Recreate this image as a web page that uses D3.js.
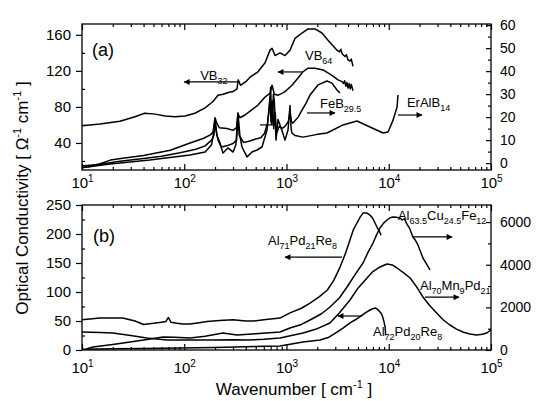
<!DOCTYPE html>
<html>
<head>
<meta charset="utf-8">
<script src="https://cdnjs.cloudflare.com/ajax/libs/d3/7.8.5/d3.min.js"></script>
<style>
body { margin: 0; background: #fff; }
text { font-family: "Liberation Sans", Arial, sans-serif; fill: #000; }
.axis path { display: none; }
.axis line { stroke: #000; stroke-width: 1.2; }
.curve { fill: none; stroke: #000; stroke-width: 1.5; stroke-linejoin: round; }
</style>
</head>
<body>
<svg id="chart" width="541" height="401"></svg>
<script>
// ---- panel (a), values ----
// left axis
var vb32 = [[10,59],[15,61],[23.5,64],[33,69],[41,73],[52,72],[65,70],[81,69],[102,70],[127,73],[160,79],[191,86],[214,93],[240,94],[270,96],[300,97],[328,100],[337,110],[355,104],[400,108],[440,113],[526,119],[617,129],[690,143],[722,145],[773,137],[864,140],[967,137],[1082,143],[1211,156],[1418,162],[1623,166.5],[1900,166.5],[2224,162],[2546,154],[3118,143],[3300,141],[3400,144],[3500,139],[3735,136],[3850,138],[4000,132],[4178,131],[4300,133],[4470,125]];
var vb64 = [[10,13],[12,14],[15,17],[19,21],[25,23],[40,26],[73,32],[114,40],[153,45],[180,49],[191,52],[200,68],[208,62],[220,57],[262,56],[300,54],[325,57],[335,73],[350,68],[393,71],[460,77],[526,82],[617,91],[690,95],[722,104],[760,94],[830,93],[900,95],[967,97],[1132,104],[1296,112],[1450,119],[1623,123],[1900,123],[2275,121],[2786,115],[3190,110],[3500,108],[3600,106],[3700,109],[3800,103],[3900,107],[4000,101],[4100,106],[4200,100],[4300,105],[4470,98]];
// right axis
var feb = [[10,-1.3],[15,-0.5],[23.5,0.8],[40,2],[60,3],[91,4.5],[130,6],[160,7.5],[185,10],[195,12],[200,19],[205,14],[214,10],[230,7],[260,7.5],[300,8.5],[325,10],[335,20],[345,12],[380,9],[430,9.5],[500,10.5],[560,11],[610,13],[650,17],[680,24],[700,33],[712,20],[730,27],[750,15],[775,22],[800,13],[850,16],[900,15],[967,16],[1040,18],[1082,22],[1120,18],[1158,17.4],[1300,20],[1418,23],[1550,26],[1698,29.6],[2032,34],[2489,35.7],[2786,34.8],[3118,31.8],[3336,30.5]];
var eralb = [[10,-2],[18.8,-0.4],[46,1.3],[114,3.5],[160,4.8],[185,8],[191,11.3],[200,18.5],[209,12],[224,8.7],[239,4.4],[268,6.6],[300,4.8],[320,8],[335,21.8],[350,12],[367,7],[411,2.7],[460,4.8],[515,5.7],[576,7],[645,14.4],[690,28.7],[705,18],[722,16.6],[745,30],[760,27],[790,10],[826,19],[900,14.4],[967,10],[1035,14.4],[1082,25],[1110,15],[1132,13],[1211,12],[1450,11.3],[2000,12.5],[2489,13.1],[3572,16.6],[4890,18.3],[6555,15.7],[8790,13.1],[9840,13.5],[11020,18.7],[12060,24.4],[12310,29.6]];

// ---- panel (b) ----
// left axis
var al71 = [[10,52],[15,55],[25,55],[33,50],[40,44],[50,46],[60,48],[66,49],[70,56],[74,48],[85,46],[97,45],[114,45],[140,47],[167,49],[220,51],[300,52],[400,50],[470,50],[600,52],[864,55],[1082,64],[1400,72],[1700,81],[2100,92],[2500,103],[2900,120],[3340,143],[3800,168],[4180,190],[4500,207],[4890,219],[5250,229],[5600,236],[6130,236],[6500,233],[6860,229],[7200,222],[7670,212],[8200,203],[8400,198]];
var al72 = [[10,1.5],[20,2],[40,2.5],[91,3.4],[200,4.5],[400,5.5],[864,6.9],[1450,13.8],[2127,17.2],[2600,22],[3118,31],[3600,38],[4178,46.6],[4800,53],[5500,60],[6000,65],[6555,69],[7000,71],[7380,72.4],[7800,70],[8210,65.5],[8500,62],[8790,55],[9000,48],[9220,39.7],[9300,30],[9300,25]];
// right axis
var al63 = [[11,50],[12.8,141],[20,260],[29.5,375],[45,500],[62,610],[80,600],[114,563],[160,650],[239,797],[328,703],[500,760],[864,844],[1082,1032],[1400,1200],[1698,1407],[2200,1700],[2663,2017],[3300,2450],[3908,2955],[4700,3550],[5600,4080],[6300,4600],[7015,5018],[7600,5400],[8210,5722],[8900,5950],[9620,6097],[10300,6200],[11020,6238],[12000,6220],[12860,6190],[13500,6100],[14200,6150],[15070,5900],[16000,5700],[17250,5300],[18200,5150],[19300,4925],[20500,4600],[21600,4315],[23000,4100],[25300,3752]];
var al70 = [[10,844],[15,820],[20,797],[30,680],[43,563],[68,469],[100,469],[191,469],[300,480],[411,469],[600,500],[864,563],[1450,797],[2000,1000],[2663,1266],[3300,1750],[4178,2345],[5000,2900],[6130,3377],[7000,3680],[8210,3893],[9620,4033],[10800,3990],[12060,3846],[14000,3620],[16200,3377],[18800,2950],[21600,2486],[25000,2100],[29400,1735],[34000,1420],[39600,1172],[46000,980],[53000,844],[62000,750],[72500,703],[82000,740],[91000,797],[100000,950]];

// tick values
var decades = [10, 100, 1000, 10000, 100000];
var aLeftTicks = [40, 80, 120, 160];
var aRightTicks = [0, 10, 20, 30, 40, 50, 60];
var bLeftTicks = [0, 50, 100, 150, 200, 250];
var bRightTicks = [0, 2000, 4000, 6000];

// labels: text pieces, 1 = subscript; placed in data units of the left axis
var labelsA = [
    { p: [["VB"], ["32", 1]], w: 143, v: 110 },
    { p: [["VB"], ["64", 1]], w: 1517, v: 132 },
    { p: [["FeB"], ["29.5", 1]], w: 2127, v: 78.8 },
    { p: [["ErAlB"], ["14", 1]], w: 15070, v: 80 }
];
var arrowsA = [
    { w0: 100, w1: 351, v: 107.7, head: "start" },
    { w0: 826, w1: 1450, v: 118.8, head: "start" },
    { w0: 1585, w1: 2980, v: 73.3, head: "end" },
    { w0: 12310, w1: 21100, v: 71, head: "end" },
    { w0: 550, w1: 710, v: 60, head: "none" }
];
var labelsB = [
    { p: [["Al"], ["71", 1], ["Pd"], ["21", 1], ["Re"], ["8", 1]], w: 659, v: 181 },
    { p: [["Al"], ["63.5", 1], ["Cu"], ["24.5", 1], ["Fe"], ["12", 1]], w: 12300, v: 224 },
    { p: [["Al"], ["70", 1], ["Mn"], ["9", 1], ["Pd"], ["21", 1]], w: 20200, v: 103 },
    { p: [["Al"], ["72", 1], ["Pd"], ["20", 1], ["Re"], ["8", 1]], w: 7020, v: 24 }
];
var arrowsB = [
    { w0: 967, w1: 3490, v: 160, head: "start" },
    { w0: 16860, w1: 41600, v: 195, head: "end" },
    { w0: 22600, w1: 48600, v: 91, head: "end" },
    { w0: 3190, w1: 5470, v: 58.6, head: "start" }
];

var svg = d3.select("#chart");

var x = d3.scaleLog().domain([10, 1e5]).range([82, 491]);
var yaL = d3.scaleLinear().domain([10, 172]).range([170, 24]);
var yaR = d3.scaleLinear().domain([-3, 60.5]).range([170, 24]);
var ybL = d3.scaleLinear().domain([0, 250]).range([350, 205]);
var ybR = d3.scaleLinear().domain([0, 6800]).range([350, 205]);

// arrow heads
var defs = svg.append("defs");
defs.append("marker").attr("id", "ah").attr("viewBox", "0 0 10 10")
    .attr("refX", 9).attr("refY", 5).attr("markerWidth", 7).attr("markerHeight", 6)
    .attr("markerUnits", "userSpaceOnUse").attr("orient", "auto-start-reverse")
    .append("path").attr("d", "M0,0L10,5L0,10z").attr("fill", "#000");

function minorsOf() {
    var out = [];
    decades.slice(0, 4).forEach(function (d) {
        for (var m = 2; m < 10; m++) out.push(d * m);
    });
    return out;
}

function drawPanel(yL, yR, leftTicks, leftMinor, rightTicks, rightMinor, labelGap) {
    var top = yL.range()[1], bot = yL.range()[0];

    // x axis: bottom (labels) and top, ticks pointing inwards
    var gb = svg.append("g").attr("class", "axis").attr("transform", "translate(0," + bot + ")")
        .call(d3.axisBottom(x).tickValues(decades).tickSizeInner(-6).tickSizeOuter(0).tickPadding(labelGap).tickFormat(""));
    gb.selectAll(".tick text").attr("font-size", 15).each(function (d) {
        var t = d3.select(this);
        t.append("tspan").text("10");
        t.append("tspan").attr("dy", -6).attr("font-size", 10).text(Math.round(Math.log10(d)));
    });
    svg.append("g").attr("class", "axis").attr("transform", "translate(0," + bot + ")")
        .call(d3.axisBottom(x).tickValues(minorsOf()).tickSizeInner(-3).tickSizeOuter(0).tickFormat(""));
    svg.append("g").attr("class", "axis").attr("transform", "translate(0," + top + ")")
        .call(d3.axisTop(x).tickValues(decades).tickSizeInner(-6).tickSizeOuter(0).tickFormat(""));
    svg.append("g").attr("class", "axis").attr("transform", "translate(0," + top + ")")
        .call(d3.axisTop(x).tickValues(minorsOf()).tickSizeInner(-3).tickSizeOuter(0).tickFormat(""));

    // left axis, major ticks sticking out
    svg.append("g").attr("class", "axis").attr("transform", "translate(82,0)")
        .call(d3.axisLeft(yL).tickValues(leftTicks).tickSizeInner(6).tickSizeOuter(0).tickPadding(5).tickFormat(d3.format("d")))
        .selectAll("text").attr("font-size", 15);
    svg.append("g").attr("class", "axis").attr("transform", "translate(82,0)")
        .call(d3.axisLeft(yL).tickValues(leftMinor).tickSizeInner(-3).tickSizeOuter(0).tickFormat(""));

    // right axis
    svg.append("g").attr("class", "axis").attr("transform", "translate(491,0)")
        .call(d3.axisRight(yR).tickValues(rightTicks).tickSizeInner(-5).tickSizeOuter(0).tickPadding(9).tickFormat(d3.format("d")))
        .selectAll("text").attr("font-size", 14);
    svg.append("g").attr("class", "axis").attr("transform", "translate(491,0)")
        .call(d3.axisRight(yR).tickValues(rightMinor).tickSizeInner(-3).tickSizeOuter(0).tickFormat(""));

    svg.append("rect").attr("x", 82).attr("y", top).attr("width", 491 - 82).attr("height", bot - top)
        .attr("fill", "none").attr("stroke", "#000").attr("stroke-width", 1.3);
}

drawPanel(yaL, yaR, aLeftTicks, [20, 60, 100, 140], aRightTicks, [5, 15, 25, 35, 45, 55], 7);
drawPanel(ybL, ybR, bLeftTicks, [25, 75, 125, 175, 225], bRightTicks, [1000, 3000, 5000], 12);

function curve(data, yS) {
    var line = d3.line().x(function (d) { return x(d[0]); }).y(function (d) { return yS(d[1]); });
    svg.append("path").attr("class", "curve").attr("d", line(data));
}

curve(vb32, yaL);
curve(vb64, yaL);
curve(feb, yaR);
curve(eralb, yaR);
curve(al71, ybL);
curve(al72, ybL);
curve(al63, ybR);
curve(al70, ybR);

function labels(list, yS) {
    list.forEach(function (l) {
        var t = svg.append("text").attr("x", x(l.w)).attr("y", yS(l.v)).attr("font-size", 13);
        var down = false;
        l.p.forEach(function (piece) {
            var s = t.append("tspan").text(piece[0]);
            if (piece[1] && !down) { s.attr("dy", 4).attr("font-size", 9); down = true; }
            else if (piece[1]) { s.attr("font-size", 9); }
            else if (down) { s.attr("dy", -4); down = false; }
        });
    });
}

function arrows(list, yS) {
    list.forEach(function (a) {
        var ln = svg.append("line").attr("x1", x(a.w0)).attr("x2", x(a.w1))
            .attr("y1", yS(a.v)).attr("y2", yS(a.v)).attr("stroke", "#000").attr("stroke-width", 1.2);
        if (a.head == "start") ln.attr("marker-start", "url(#ah)");
        if (a.head == "end") ln.attr("marker-end", "url(#ah)");
    });
}

labels(labelsA, yaL);
arrows(arrowsA, yaL);
labels(labelsB, ybL);
arrows(arrowsB, ybL);

// panel tags
svg.append("text").attr("x", x(12.5)).attr("y", yaL(136.5)).attr("font-family", "Liberation Serif")
    .attr("font-size", 18).text("(a)");
svg.append("text").attr("x", x(12.8)).attr("y", ybL(186)).attr("font-family", "Liberation Serif")
    .attr("font-size", 18).text("(b)");

// axis titles
var yt = svg.append("text").attr("transform", "translate(28,198) rotate(-90)")
    .attr("text-anchor", "middle").attr("font-size", 17);
yt.append("tspan").text("Optical Conductivity [ \u03A9");
yt.append("tspan").attr("dy", -7).attr("font-size", 11).text("-1");
yt.append("tspan").attr("dy", 7).text(" cm");
yt.append("tspan").attr("dy", -7).attr("font-size", 11).text("-1");
yt.append("tspan").attr("dy", 7).text(" ]");

var xt = svg.append("text").attr("x", 294).attr("y", 395).attr("text-anchor", "middle").attr("font-size", 17);
xt.append("tspan").text("Wavenumber [ cm");
xt.append("tspan").attr("dy", -7).attr("font-size", 11).text("-1");
xt.append("tspan").attr("dy", 7).text(" ]");
</script>
</body>
</html>
